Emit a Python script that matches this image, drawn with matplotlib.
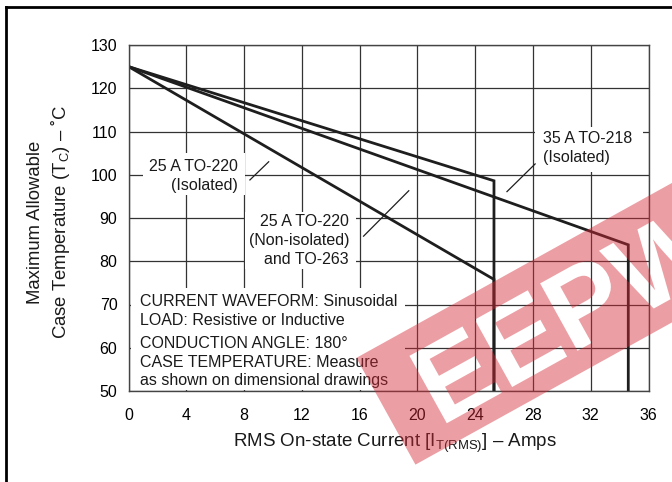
import matplotlib
matplotlib.use("Agg")
import matplotlib.pyplot as plt
import matplotlib.transforms as mtransforms
from matplotlib.patches import Rectangle, PathPatch
from matplotlib.lines import Line2D
from matplotlib.textpath import TextPath
from matplotlib.font_manager import FontProperties
from matplotlib.path import Path
import numpy as np

plt.rcParams['font.family'] = ['Liberation Sans', 'DejaVu Sans']
plt.rcParams['mathtext.fontset'] = 'custom'
plt.rcParams['mathtext.rm'] = 'Liberation Sans'
plt.rcParams['mathtext.it'] = 'Liberation Sans:italic'

# ---- data ----
iso25_x = [0, 25.3, 25.3]
iso25_y = [125, 98.6, 50]
noniso25_x = [0, 25.3, 25.3]
noniso25_y = [125, 75.8, 50]
to218_x = [0, 34.6, 34.6]
to218_y = [125, 83.8, 50]

x_ticks = [0, 4, 8, 12, 16, 20, 24, 28, 32, 36]
y_ticks = [50, 60, 70, 80, 90, 100, 110, 120, 130]

label_iso25 = "25 A TO-220\n(Isolated)"
label_noniso25 = "25 A TO-220\n(Non-isolated)\nand TO-263"
label_to218 = "35 A TO-218\n(Isolated)"
notes_1 = "CURRENT WAVEFORM: Sinusoidal\nLOAD: Resistive or Inductive"
notes_2 = "CONDUCTION ANGLE: 180\u00b0\nCASE TEMPERATURE: Measure\nas shown on dimensional drawings"

W, H = 672, 482
fig = plt.figure(figsize=(W / 100, H / 100), dpi=100)
ax = fig.add_axes([128.6 / W, 1 - 391 / H, (648.5 - 128.6) / W, (391 - 45) / H])

ax.set_xlim(0, 36)
ax.set_ylim(50, 130)
ax.set_xticks(x_ticks)
ax.set_yticks(y_ticks)
ax.tick_params(length=0, labelsize=11.5, pad=8)
ax.tick_params(axis='x', pad=12)
ax.set_axisbelow(True)
ax.grid(True, color='#333333', lw=0.9)
for s in ax.spines.values():
    s.set_color('#444444')
    s.set_linewidth(1.0)
    s.set_zorder(2.5)

lc = '#1e1e1e'
lw = 2.0
for xs, ys in [(iso25_x, iso25_y), (noniso25_x, noniso25_y), (to218_x, to218_y)]:
    ax.plot(xs, ys, color=lc, lw=lw, solid_joinstyle='miter', zorder=2)

# white label boxes
def wbox(x0, x1, y0, y1):
    ax.add_patch(Rectangle((x0, y0), x1 - x0, y1 - y0, facecolor='white',
                           edgecolor='none', zorder=1.5))

wbox(1.0, 8.05, 95.3, 105.0)
wbox(8.05, 15.75, 78.2, 91.4)
wbox(28.15, 35.6, 100.6, 111.0)
wbox(0.17, 19.14, 50.3, 73.8)

tkw = dict(fontsize=11.5, color='#1a1a1a', zorder=3, linespacing=1.33)
ax.text(7.6, 99.8, label_iso25, ha='right', va='center', **tkw)
ax.text(15.27, 84.9, label_noniso25, ha='right', va='center', **tkw)
ax.text(28.7, 106.2, label_to218, ha='left', va='center', **tkw)
ax.text(0.8, 68.6, notes_1, ha='left', va='center', **tkw)
ax.text(0.8, 56.7, notes_2, ha='left', va='center', **tkw)

# leader lines
llw = 0.9
ax.plot([8.4, 9.7], [98.8, 103.0], color=lc, lw=llw, zorder=3)
ax.plot([16.27, 19.4], [85.8, 96.3], color=lc, lw=llw, zorder=3)
ax.plot([26.2, 28.15], [96.1, 102.5], color=lc, lw=llw, zorder=3)

# axis labels
fig.text(395 / W, 1 - 443 / H, "RMS On-state Current [I$_\\mathregular{T(RMS)}$] \u2013 Amps",
         ha='center', va='center', fontsize=13.5, color='#1a1a1a')
fig.text(36 / W, 1 - 222 / H, "Maximum Allowable", rotation=90,
         ha='center', va='center', fontsize=13.3, color='#1a1a1a')
fig.text(60 / W, 1 - 222 / H, "Case Temperature (T$_\\mathregular{C}$) \u2013 \u02daC", rotation=90,
         ha='center', va='center', fontsize=13.3, color='#1a1a1a')

# outer frame (left and top edges)
fig.add_artist(Line2D([6 / W, 6 / W], [0, 1 - 7 / H], transform=fig.transFigure,
                      color='black', lw=2.0))
fig.add_artist(Line2D([6 / W, 1], [1 - 7 / H, 1 - 7 / H], transform=fig.transFigure,
                      color='black', lw=2.0))

# watermark: translucent band with letter cut-outs
fp = FontProperties(family='Liberation Sans', weight='bold')
tp = TextPath((0, 0), "EEPW", size=112, prop=fp)
x0b, x1b, y0b, y1b = -40, 620, -21, 101
rect_verts = [(x0b, y0b), (x1b, y0b), (x1b, y1b), (x0b, y1b), (x0b, y0b)]
rect_codes = [Path.MOVETO, Path.LINETO, Path.LINETO, Path.LINETO, Path.CLOSEPOLY]
verts = np.concatenate([np.array(rect_verts, float), tp.vertices])
codes = np.concatenate([np.array(rect_codes), tp.codes])
wm_path = Path(verts, codes)
tr = mtransforms.Affine2D().rotate_deg(29).translate(440.25, 55.13)
wm = PathPatch(wm_path, facecolor='#d42a35', edgecolor='none', alpha=0.45,
               transform=tr, zorder=5)
fig.add_artist(wm)

fig.savefig("out.png", dpi=100)
